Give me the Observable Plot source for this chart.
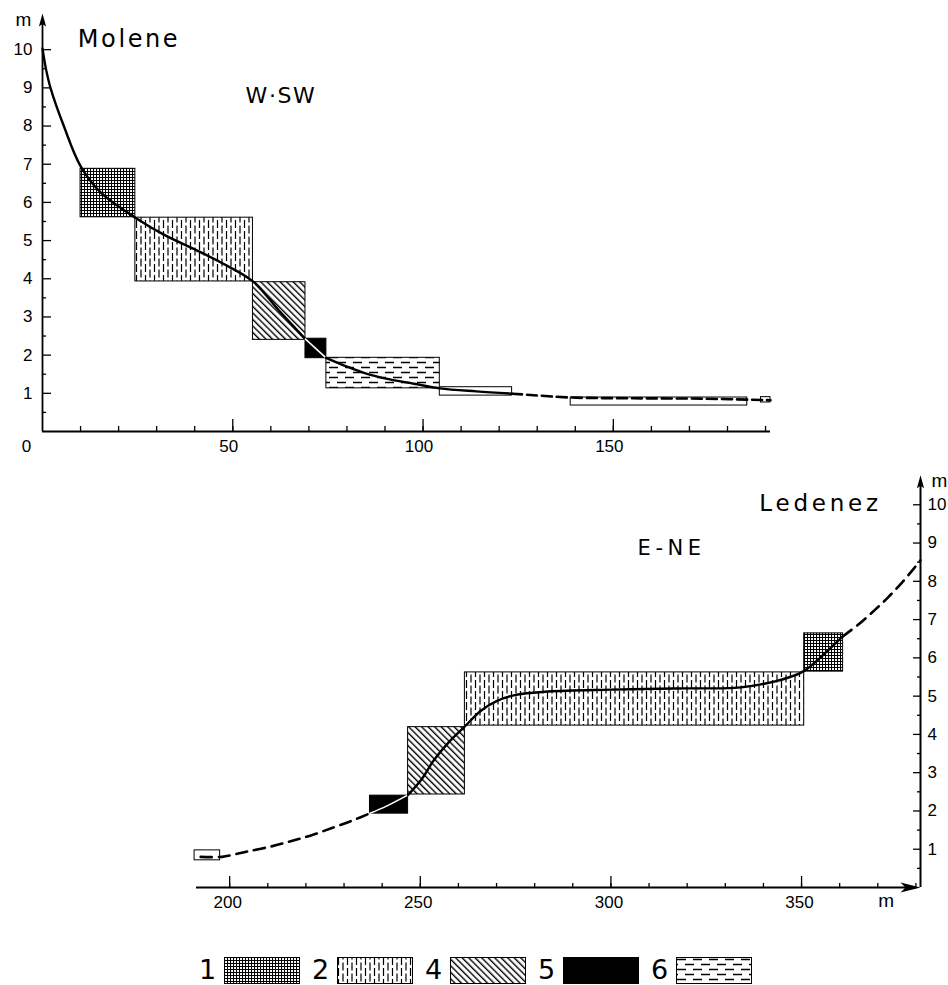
<!DOCTYPE html>
<html><head><meta charset="utf-8">
<script src="https://cdn.jsdelivr.net/npm/d3@7"></script>
<script src="https://cdn.jsdelivr.net/npm/@observablehq/plot@0.6"></script>
<style>
html,body{margin:0;padding:0;background:#fff;}
#chart{position:relative;width:948px;height:985px;overflow:hidden;background:#fff;}
#chart > svg{position:absolute;}
#legend{position:absolute;left:199px;top:957px;height:26px;display:flex;align-items:center;font-family:"DejaVu Sans",sans-serif;font-size:27px;line-height:26px;color:#000;}
#legend .num{display:inline-block;width:17px;text-align:center;margin-right:8px;}
#legend svg{margin-right:12px;display:block;}
</style></head><body>
<svg width="0" height="0" style="position:absolute">
<defs>
<pattern id="pat1" patternUnits="userSpaceOnUse" width="3" height="3"><rect width="3" height="3" fill="#fff"/><path d="M0 0.5H3M0.5 0V3" stroke="#000" stroke-width="1.1"/></pattern>
<pattern id="pat2" patternUnits="userSpaceOnUse" width="9" height="11"><rect width="9" height="11" fill="#fff"/><path d="M1.5 0V8M6 5.5V11M6 0V2.5" stroke="#000" stroke-width="1.2"/></pattern>
<pattern id="pat4" patternUnits="userSpaceOnUse" width="4.6" height="4.6" patternTransform="rotate(45)"><rect width="4.6" height="4.6" fill="#fff"/><path d="M-1 1.2H6" stroke="#000" stroke-width="1.4"/></pattern>
<pattern id="pat6" patternUnits="userSpaceOnUse" width="16" height="10"><rect width="16" height="10" fill="#fff"/><path d="M1 2.5H10M9 7.5H16M0 7.5H2" stroke="#000" stroke-width="1.6"/></pattern>
</defs></svg>
<div id="chart"></div>
<script>
// ---------------- data ----------------
const legendTypes = [1, 2, 4, 5, 6];

// Molene (W-SW) – sediment zones: type, from/to distance (m), low/high level (m)
const moleneZoneType = [1, 2, 4, 5, 6, 0, 0, 0];
const moleneZoneFrom = [10.0, 24.4, 55.3, 69.1, 74.6, 104.4, 138.8, 188.8];
const moleneZoneTo   = [24.4, 55.3, 69.1, 74.6, 104.4, 123.4, 185.2, 191.3];
const moleneZoneLow  = [5.61, 3.93, 2.40, 1.92, 1.13, 0.94, 0.68, 0.76];
const moleneZoneHigh = [6.88, 5.60, 3.91, 2.43, 1.93, 1.16, 0.89, 0.90];
// Molene profile
const moleneSolidX   = [0, 0.8, 2.1, 5.6, 10.0, 15.2, 24.4, 32, 40, 47, 55.3, 62.2, 69.1];
const moleneSolidY   = [10.03, 9.55, 9.0, 8.0, 6.95, 6.27, 5.6, 5.15, 4.77, 4.42, 3.93, 3.16, 2.42];
const moleneInBlackX = [69.1, 74.5];
const moleneInBlackY = [2.42, 1.93];
const moleneSolid2X  = [74.5, 80, 85.3, 91, 97.6, 104.4, 114, 123.4];
const moleneSolid2Y  = [1.93, 1.70, 1.51, 1.37, 1.25, 1.13, 1.05, 0.99];
const moleneDashX    = [123.4, 129.1, 138.8, 155.4, 172.9, 191.3];
const moleneDashY    = [0.99, 0.95, 0.89, 0.87, 0.86, 0.82];

// Ledenez (E-NE) – sediment zones
const ledenezZoneType = [0, 5, 4, 2, 1];
const ledenezZoneFrom = [190.8, 236.8, 246.8, 261.7, 350.7];
const ledenezZoneTo   = [197.5, 246.8, 261.7, 350.7, 360.9];
const ledenezZoneLow  = [0.71, 1.93, 2.43, 4.23, 5.64];
const ledenezZoneHigh = [0.97, 2.40, 4.19, 5.62, 6.64];
// Ledenez profile
const ledenezDashX    = [192.4, 198.0, 201.1, 204.6, 210.8, 216.0, 221.3, 227.0, 232.2, 236.8];
const ledenezDashY    = [0.80, 0.80, 0.86, 0.94, 1.07, 1.21, 1.36, 1.56, 1.75, 1.94];
const ledenezInBlackX = [236.8, 241.0, 246.8];
const ledenezInBlackY = [1.94, 2.12, 2.42];
const ledenezSolidX   = [246.8, 250.5, 253.5, 257.5, 261.6, 265.9, 270, 274.5, 283.5, 300, 316.5, 334.1, 342.8, 347, 350.7, 355.7, 360.8];
const ledenezSolidY   = [2.42, 2.85, 3.32, 3.80, 4.20, 4.62, 4.87, 5.02, 5.12, 5.17, 5.20, 5.23, 5.38, 5.50, 5.66, 6.08, 6.56];
const ledenezDash2X   = [360.8, 365, 369.1, 372.7, 376.1, 379.5, 381.2];
const ledenezDash2Y   = [6.56, 6.88, 7.24, 7.58, 7.94, 8.34, 8.55];

// axes
const moleneXDomain  = [0, 191.3];
const ledenezXDomain = [191.3, 381.2];
const levelDomain    = [0, 11];
const moleneArrowTip = 10.95;
const ledenezArrowTip = 10.77;
const levelLabels    = [1, 2, 3, 4, 5, 6, 7, 8, 9, 10];
const levelHalfTicks = d3.range(0.5, 10.5, 1);
const moleneXLabels  = [50, 100, 150];
const moleneXMinor   = d3.range(10, 191, 10);
const ledenezXLabels = [200, 250, 300, 350];
const ledenezXMinor  = d3.range(200, 381, 10);

// ---------------- helpers ----------------
const fillFor = {0: "white", 1: "url(#pat1)", 2: "url(#pat2)", 4: "url(#pat4)", 5: "black", 6: "url(#pat6)"};
const zones = (type, from, to, low, high) => type.map((t, i) => ({type: t, x1: from[i], x2: to[i], y1: low[i], y2: high[i]}));
const zoneMarks = (data) => Object.keys(fillFor).map(t =>
  Plot.rect(data.filter(d => String(d.type) === t), {x1: "x1", x2: "x2", y1: "y1", y2: "y2", fill: fillFor[t], stroke: "black", strokeWidth: 1}));
const arrowUp = {draw(c) { c.moveTo(0, 0); c.lineTo(3.6, 13); c.lineTo(0, 10.5); c.lineTo(-3.6, 13); c.closePath(); }};
const arrowRight = {draw(c) { c.moveTo(0, 0); c.lineTo(-20, -5); c.lineTo(-15, 0); c.lineTo(-20, 5); c.closePath(); }};
const plotStyle = {fontFamily: "'Liberation Sans', Arial, sans-serif", fontSize: "17px", background: "transparent", overflow: "visible", color: "black"};
const titleFont = "'DejaVu Sans', sans-serif";
const numSize = 17;

// ---------------- top panel: Molene ----------------
const molene = zones(moleneZoneType, moleneZoneFrom, moleneZoneTo, moleneZoneLow, moleneZoneHigh);
const topPlot = Plot.plot({
  width: 800, height: 470,
  marginLeft: 42, marginRight: 30, marginTop: 11, marginBottom: 39,
  x: {domain: moleneXDomain, label: null},
  y: {domain: levelDomain, label: null},
  style: plotStyle,
  marks: [
    ...zoneMarks(molene),
    Plot.line(d3.zip(moleneSolidX, moleneSolidY), {curve: "catmull-rom", stroke: "black", strokeWidth: 2.4}),
    Plot.line(d3.zip(moleneInBlackX, moleneInBlackY), {stroke: "white", strokeWidth: 1.6}),
    Plot.line(d3.zip(moleneSolid2X, moleneSolid2Y), {curve: "catmull-rom", stroke: "black", strokeWidth: 2.4}),
    Plot.line(d3.zip(moleneDashX, moleneDashY), {curve: "catmull-rom", stroke: "black", strokeWidth: 2.6, strokeDasharray: "10,5"}),
    // axes lines
    Plot.ruleY([levelDomain[0]], {x1: moleneXDomain[0], x2: moleneXDomain[1], strokeWidth: 2}),
    Plot.ruleX([moleneXDomain[0]], {y1: levelDomain[0], y2: moleneArrowTip - 0.2, strokeWidth: 1.8}),
    Plot.dot([0], {x: moleneXDomain[0], y: moleneArrowTip, symbol: arrowUp, fill: "black", stroke: "none"}),
    // ticks
    Plot.axisY(levelLabels, {anchor: "left", tickSize: -9, strokeWidth: 1.3, fill: "none", label: null}),
    Plot.axisY(levelHalfTicks, {anchor: "left", tickSize: -4, strokeWidth: 1.3, fill: "none", label: null}),
    Plot.axisX(moleneXMinor, {anchor: "bottom", tickSize: -5, strokeWidth: 1.3, fill: "none", label: null}),
    Plot.axisX(moleneXLabels, {anchor: "bottom", tickSize: -12, strokeWidth: 1.3, fill: "none", label: null}),
    // labels
    Plot.axisY(levelLabels, {anchor: "left", tickSize: 0, tickPadding: 10, fontSize: numSize, label: null}),
    Plot.axisX(moleneXLabels, {anchor: "bottom", tickSize: 0, tickPadding: 8, dx: -4, fontSize: numSize, label: null}),
    Plot.axisX([0], {anchor: "bottom", tickSize: 0, tickPadding: 8, dx: -16, fontSize: numSize, label: null}),
    Plot.text(["m"], {x: moleneXDomain[0], y: 10.78, dx: -19, fontSize: 19}),
    Plot.text(["Molene"], {x: 9.28, y: 10.28, textAnchor: "start", fontSize: 24, fontFamily: titleFont}),
    Plot.text(["W·SW"], {x: 53.35, y: 8.79, textAnchor: "start", fontSize: 22, fontFamily: titleFont})
  ]
});

// ---------------- bottom panel: Ledenez ----------------
const ledenez = zones(ledenezZoneType, ledenezZoneFrom, ledenezZoneTo, ledenezZoneLow, ledenezZoneHigh);
const bottomPlot = Plot.plot({
  width: 798, height: 470,
  marginLeft: 46, marginRight: 28, marginTop: 6, marginBottom: 43,
  x: {domain: ledenezXDomain, label: null},
  y: {domain: levelDomain, label: null},
  style: plotStyle,
  marks: [
    ...zoneMarks(ledenez),
    Plot.line(d3.zip(ledenezDashX, ledenezDashY), {curve: "catmull-rom", stroke: "black", strokeWidth: 2.6, strokeDasharray: "11,7"}),
    Plot.line(d3.zip(ledenezInBlackX, ledenezInBlackY), {curve: "catmull-rom", stroke: "white", strokeWidth: 1.6}),
    Plot.line(d3.zip(ledenezSolidX, ledenezSolidY), {curve: "catmull-rom", stroke: "black", strokeWidth: 2.4}),
    Plot.line(d3.zip(ledenezDash2X, ledenezDash2Y), {curve: "catmull-rom", stroke: "black", strokeWidth: 2.6, strokeDasharray: "11,7"}),
    // axes lines
    Plot.ruleY([levelDomain[0]], {x1: ledenezXDomain[0], x2: ledenezXDomain[1] - 1, strokeWidth: 2}),
    Plot.ruleX([ledenezXDomain[1]], {y1: levelDomain[0], y2: ledenezArrowTip - 0.2, strokeWidth: 2}),
    Plot.dot([0], {x: ledenezXDomain[1], y: ledenezArrowTip, symbol: arrowUp, fill: "black", stroke: "none"}),
    Plot.dot([0], {x: ledenezXDomain[1], y: levelDomain[0], symbol: arrowRight, fill: "black", stroke: "none"}),
    // ticks
    Plot.axisY(levelLabels, {anchor: "right", tickSize: -8, strokeWidth: 1.3, fill: "none", label: null}),
    Plot.axisY(levelHalfTicks, {anchor: "right", tickSize: -4, strokeWidth: 1.3, fill: "none", label: null}),
    Plot.axisX(ledenezXMinor, {anchor: "bottom", tickSize: -4, strokeWidth: 1.3, fill: "none", label: null}),
    Plot.axisX(ledenezXLabels, {anchor: "bottom", tickSize: -11, strokeWidth: 1.3, fill: "none", label: null}),
    // labels
    Plot.axisY(levelLabels, {anchor: "right", tickSize: 0, tickPadding: 7, fontSize: numSize, label: null}),
    Plot.axisX(ledenezXLabels, {anchor: "bottom", tickSize: 0, tickPadding: 8, dx: -2, fontSize: numSize, label: null}),
    Plot.text(["m"], {x: 372.2, y: levelDomain[0], dy: 13, fontSize: 19}),
    Plot.text(["m"], {x: ledenezXDomain[1], y: 10.63, dx: 19, fontSize: 19}),
    Plot.text(["Ledenez"], {x: 338.9, y: 10.03, textAnchor: "start", fontSize: 23, fontFamily: titleFont}),
    Plot.text(["E-NE"], {x: 307.0, y: 8.87, textAnchor: "start", fontSize: 21, fontFamily: titleFont})
  ]
});

const chart = document.getElementById("chart");
topPlot.style.left = "0px"; topPlot.style.top = "0px";
bottomPlot.style.left = "150px"; bottomPlot.style.top = "460px";
chart.appendChild(topPlot);
chart.appendChild(bottomPlot);

// wide lettering of the original titles
const spacing = {"Molene": "2.6px", "W·SW": "1.6px", "Ledenez": "3.8px", "E-NE": "4.5px"};
d3.select(chart).selectAll("text").each(function() {
  const s = spacing[this.textContent];
  if (s) this.style.letterSpacing = s;
});

// ---------------- legend ----------------
const legend = d3.select(chart).append("div").attr("id", "legend");
legendTypes.forEach(t => {
  legend.append("span").attr("class", "num").text(t);
  const s = legend.append("svg").attr("width", 76).attr("height", 27);
  s.append("rect").attr("x", 0.5).attr("y", 0.5).attr("width", 75).attr("height", 26)
    .attr("fill", fillFor[t]).attr("stroke", "black").attr("stroke-width", 1);
});
</script>
</body></html>
